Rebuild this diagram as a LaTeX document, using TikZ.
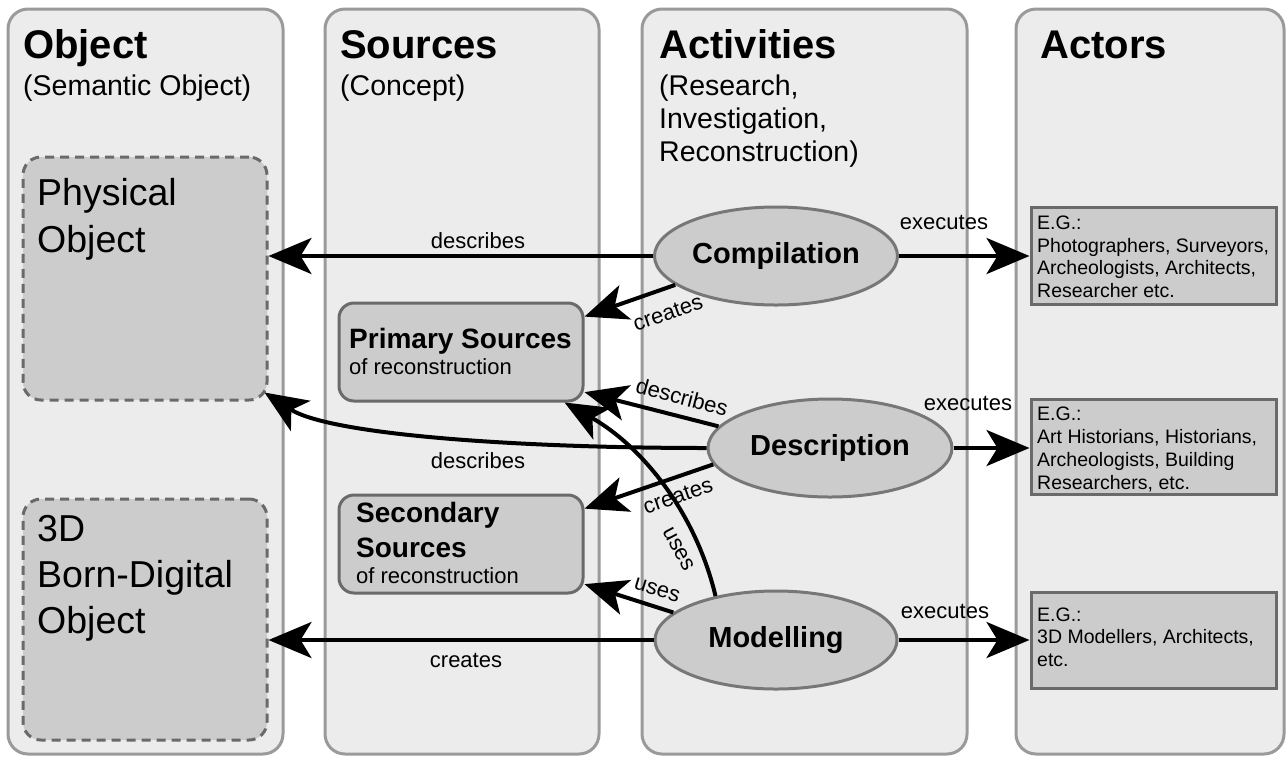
\documentclass[tikz,border=0pt]{standalone}
\usepackage{fontspec}
\setmainfont{Liberation Sans}
\usetikzlibrary{shapes.geometric,arrows.meta,calc}
\definecolor{panelfill}{HTML}{ECECEC}
\definecolor{panelline}{HTML}{9A9A9A}
\definecolor{boxfill}{HTML}{CCCCCC}
\definecolor{boxline}{HTML}{6A6A6A}
\definecolor{ellline}{HTML}{777777}
\newcommand{\fsz}[2]{\fontsize{#1}{#2}\selectfont}
\tikzset{
  panel/.style={draw=panelline, fill=panelfill, line width=3pt, rounded corners=20pt},
  objbox/.style={draw=boxline, fill=boxfill, line width=3pt, dash pattern=on 9pt off 6pt, rounded corners=18pt, inner sep=0pt},
  srcbox/.style={draw=boxline, fill=boxfill, line width=3pt, rounded corners=15pt, inner sep=0pt, minimum width=244pt, minimum height=98pt},
  actbox/.style={draw=boxline, fill=boxfill, line width=3pt, inner sep=0pt, minimum width=245pt},
  activity/.style={ellipse, draw=ellline, fill=boxfill, line width=3pt, inner sep=0pt, minimum height=98pt, font=\fsz{29}{34}\bfseries},
  title/.style={anchor=base west, inner sep=0pt, font=\fsz{40}{46}\bfseries},
  subtitle/.style={anchor=base west, inner sep=0pt, font=\fsz{28.5}{34}},
  bigtext/.style={anchor=base west, inner sep=0pt, font=\fsz{37.5}{44}},
  srcbold/.style={anchor=base west, inner sep=0pt, font=\fsz{28}{33}\bfseries},
  srcsmall/.style={anchor=base west, inner sep=0pt, font=\fsz{22}{26}},
  acttext/.style={anchor=base west, inner sep=0pt, font=\fsz{19.5}{23}},
  lab/.style={inner sep=0pt, font=\fsz{22}{26}},
  arr/.style={line width=4pt, draw=black, -{Stealth[length=43pt,width=36pt,inset=11pt]}}
}
\begin{document}
\begin{tikzpicture}[x=1pt,y=-1pt]
\useasboundingbox (0,0) rectangle (1287,756);
\fill[white] (0,0) rectangle (1287,756);

% column panels
\draw[panel] (8,9) rectangle (283,754);
\draw[panel] (325,9) rectangle (599,754);
\draw[panel] (642,9) rectangle (967,754);
\draw[panel] (1016,9) rectangle (1284,754);

% column titles
\node[title] (tObj) at (23,58) {Object};
\node[subtitle] (sObj) at (23,95) {(Semantic Object)};
\node[title] (tSrc) at (340,58) {Sources};
\node[subtitle] (sSrc) at (340,95) {(Concept)};
\node[title] (tAct) at (659,58) {Activities};
\node[subtitle] (sAct1) at (659,95) {(Research,};
\node[subtitle] (sAct2) at (659,128) {Investigation,};
\node[subtitle] (sAct3) at (659,161) {Reconstruction)};
\node[title] (tActr) at (1040,58) {Actors};

% object boxes
\node[objbox, minimum width=244pt, minimum height=243pt] (phys) at (145,278.5) {};
\node[bigtext] (physA) at (37,205) {Physical};
\node[bigtext] (physB) at (37,252) {Object};
\node[objbox, minimum width=244pt, minimum height=241pt] (dig) at (145,619.5) {};
\node[bigtext] (digA) at (37,541) {3D};
\node[bigtext] (digB) at (37,587) {Born-Digital};
\node[bigtext] (digC) at (37,633) {Object};

% source boxes
\node[srcbox] (prim) at (461,352) {};
\node[srcbold] (primA) at (349,348) {Primary Sources};
\node[srcsmall] (primB) at (349,374) {of reconstruction};
\node[srcbox] (sec) at (461,544) {};
\node[srcbold] (secA) at (356,522) {Secondary};
\node[srcbold] (secB) at (356,557) {Sources};
\node[srcsmall] (secC) at (356,583) {of reconstruction};

% activities
\node[activity, minimum width=243pt] (comp) at (776,256) {Compilation};
\node[activity, minimum width=244pt] (desc) at (830,448) {Description};
\node[activity, minimum width=242pt] (mod) at (776,640) {Modelling};

% actor boxes
\node[actbox, minimum height=97pt] (act1) at (1153.5,255.5) {};
\node[acttext] at (1037,229) {E.G.:};
\node[acttext] at (1037,252) {Photographers, Surveyors,};
\node[acttext] at (1037,274) {Archeologists, Architects,};
\node[acttext] at (1037,297) {Researcher etc.};
\node[actbox, minimum height=95pt] (act2) at (1153.5,446.5) {};
\node[acttext] at (1037,420) {E.G.:};
\node[acttext] at (1037,443) {Art Historians, Historians,};
\node[acttext] at (1037,466) {Archeologists, Building};
\node[acttext] at (1037,489) {Researchers, etc.};
\node[actbox, minimum height=96pt] (act3) at (1153.5,640) {};
\node[acttext] at (1037,621) {E.G.:};
\node[acttext] at (1037,643) {3D Modellers, Architects,};
\node[acttext] at (1037,666) {etc.};

% connectors
\draw[arr] (comp.west) -- (comp.west -| phys.east);
\draw[arr] (comp.196) -- (prim.16);
\draw[arr] (comp.east) -- (comp.east -| act1.west);

\draw[arr] (desc.169) -- (prim.-18);
\draw[arr] (desc.west) .. controls (520,448) and (330,435) .. ($(phys.south east)+(-4,-9)$);
\draw[arr] (desc.188) -- (sec.16);
\draw[arr] (desc.east) -- (desc.east -| act2.west);

\draw[arr] (mod.144) .. controls (695,510) and (640,445) .. (prim.-26);
\draw[arr] (mod.165) -- (sec.-18);
\draw[arr] (mod.west) -- (mod.west -| dig.east);
\draw[arr] (mod.east) -- (mod.east -| act3.west);

% connector labels
\node[lab, anchor=base] (l1) at (478,248) {describes};
\node[lab, rotate=19] (l2) at (668,313) {creates};
\node[lab, anchor=base] (l3) at (944,229) {executes};
\node[lab, rotate=-15] (l4) at (682,397) {describes};
\node[lab, anchor=base] (l5) at (478,468) {describes};
\node[lab, rotate=19] (l6) at (678,496) {creates};
\node[lab, anchor=base] (l7) at (968,410) {executes};
\node[lab, rotate=-62] (l8) at (679,549) {uses};
\node[lab, rotate=-17] (l9) at (657,590) {uses};
\node[lab, anchor=base] (l10) at (466,667) {creates};
\node[lab, anchor=base] (l11) at (945,618) {executes};
\end{tikzpicture}
\end{document}
